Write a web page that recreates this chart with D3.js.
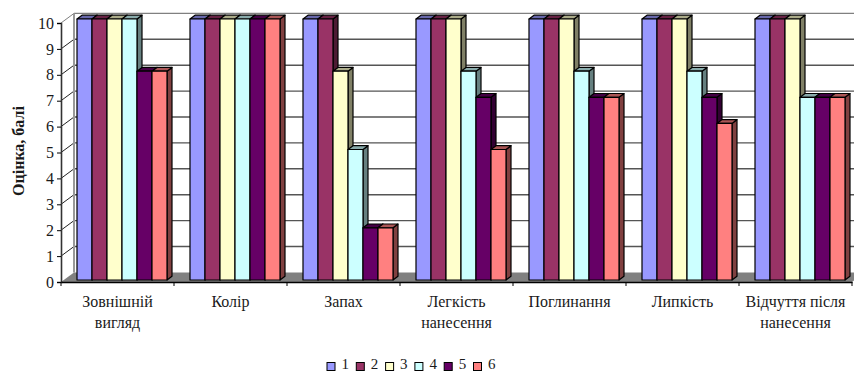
<!DOCTYPE html>
<html>
<head>
<meta charset="utf-8">
<script src="https://cdn.jsdelivr.net/npm/d3@7/dist/d3.min.js"></script>
<style>
  html, body { margin: 0; padding: 0; background: #fff; }
  svg { display: block; }
  text { font-family: "Liberation Serif", "Times New Roman", serif; fill: #1a1a1a; }
</style>
</head>
<body>
<svg id="chart" width="854" height="372"></svg>
<script>
const categories = ["Зовнішній вигляд", "Колір", "Запах", "Легкість нанесення", "Поглинання", "Липкість", "Відчуття після нанесення"];
const seriesNames = ["1", "2", "3", "4", "5", "6"];
const series1 = [10, 10, 10, 10, 10, 10, 10];
const series2 = [10, 10, 10, 10, 10, 10, 10];
const series3 = [10, 10, 8, 10, 10, 10, 10];
const series4 = [10, 10, 5, 8, 8, 8, 7];
const series5 = [8, 10, 2, 7, 7, 7, 7];
const series6 = [8, 10, 2, 5, 7, 6, 7];
const seriesColors = ["#9999ff", "#993366", "#ffffcc", "#ccffff", "#660066", "#ff8080"];
const yTicks = [0, 1, 2, 3, 4, 5, 6, 7, 8, 9, 10];
const yTitle = "Оцінка, балі";

const allSeries = [series1, series2, series3, series4, series5, series6];
const svg = d3.select("#chart");

// Front plane of the 3D box and the oblique offset to its back wall.
const x = d3.scaleBand().domain(categories).range([61, 852]);
const y = d3.scaleLinear().domain([0, 10]).range([282, 23]);
const wallDx = 13, wallDy = -9.6;

// Bars stand slightly inside the box and have their own small depth.
const barInsetX = 2.5, barInsetY = -2;
const barDx = 5, barDy = -3.8;
const barBand = d3.scaleBand().domain(d3.range(seriesNames.length)).range([0, 90]);
const groupLead = 13.5;
const barHeightScale = d3.scaleLinear().domain([0, 10]).range([0, 261]);

const px = v => v.toFixed(2);
const poly = pts => pts.map(p => p.map(px).join(",")).join(" ");
const shade = (c, k) => {
  const rgb = d3.rgb(c);
  return d3.rgb(rgb.r * k, rgb.g * k, rgb.b * k).formatHex();
};

const [x0, x1] = x.range();
const yBottom = y(0), yTop = y(10);

// Back-wall grid and the slanted ticks across the left wall.
const box = svg.append("g");
box.selectAll("line.grid").data(yTicks.filter(t => t > 0)).join("line")
  .attr("class", "grid")
  .attr("x1", x0 + wallDx).attr("x2", 854)
  .attr("y1", d => y(d) + wallDy).attr("y2", d => y(d) + wallDy)
  .attr("stroke", d => d === 10 ? "#808080" : "#555").attr("stroke-width", 1.4);

box.selectAll("line.wallTick").data(yTicks.filter(t => t > 0)).join("line")
  .attr("class", "wallTick")
  .attr("x1", x0).attr("y1", d => y(d))
  .attr("x2", x0 + wallDx).attr("y2", d => y(d) + wallDy)
  .attr("stroke", d => d === 10 ? "#808080" : "#222").attr("stroke-width", 1);

box.append("line")
  .attr("x1", x0 + wallDx).attr("x2", x0 + wallDx)
  .attr("y1", yBottom + wallDy).attr("y2", yTop + wallDy)
  .attr("stroke", "#999").attr("stroke-width", 2);

// Grey floor of the box.
box.append("polygon")
  .attr("points", poly([[x0, yBottom], [x1, yBottom], [x1 + wallDx, yBottom + wallDy], [x0 + wallDx, yBottom + wallDy]]))
  .attr("fill", "#808080");

// Each bar is painted side, top, then front, left to right within its group.
const bars = svg.append("g");
categories.forEach((cat, ci) => {
  allSeries.forEach((values, si) => {
    const v = values[ci];
    const bx0 = x(cat) + groupLead + barInsetX + barBand(si);
    const bx1 = bx0 + barBand.bandwidth();
    const by0 = yBottom + barInsetY;
    const by1 = by0 - barHeightScale(v);
    const c = seriesColors[si];
    const g = bars.append("g").attr("stroke", "#000").attr("stroke-width", 1.2).attr("stroke-linejoin", "round");
    g.append("polygon")
      .attr("points", poly([[bx1, by0], [bx1 + barDx, by0 + barDy], [bx1 + barDx, by1 + barDy], [bx1, by1]]))
      .attr("fill", shade(c, 0.5));
    g.append("polygon")
      .attr("points", poly([[bx0, by1], [bx1, by1], [bx1 + barDx, by1 + barDy], [bx0 + barDx, by1 + barDy]]))
      .attr("fill", shade(c, 0.67));
    g.append("rect")
      .attr("x", bx0).attr("y", by1)
      .attr("width", barBand.bandwidth()).attr("height", by0 - by1)
      .attr("fill", c);
  });
});

// Front axes.
const yAxis = d3.axisLeft(y).tickValues(yTicks).tickSize(4).tickPadding(3).tickFormat(d3.format("d"));
const yG = svg.append("g").attr("transform", `translate(${x0},0)`).call(yAxis);
yG.select(".domain").attr("stroke", "#333").attr("stroke-width", 1.6);
yG.selectAll("text").attr("font-family", null).attr("font-size", 16);

const xEdges = d3.scaleLinear().domain([0, categories.length]).range(x.range());
const xAxis = d3.axisBottom(x).tickSize(0).tickPadding(13.6);
const xG = svg.append("g").attr("transform", `translate(0,${yBottom})`).call(xAxis);
xG.select(".domain").attr("stroke", "#000").attr("stroke-width", 1.4);
xG.selectAll(".edge").data(d3.range(categories.length + 1)).join("line")
  .attr("class", "edge")
  .attr("x1", d => xEdges(d)).attr("x2", d => xEdges(d))
  .attr("y1", 0).attr("y2", 4)
  .attr("stroke", "#000");

// Category labels wrap inside their band with generous line spacing.
xG.selectAll(".tick text").attr("font-size", 16).each(function (d) {
  const label = d3.select(this);
  const yPos = +label.attr("y");
  const words = d.split(" ");
  const maxWidth = x.bandwidth() - 4;
  label.text(null);
  let line = [];
  let row = 0;
  let tspan = label.append("tspan").attr("x", 0).attr("y", yPos).attr("dy", "0.71em");
  words.forEach(w => {
    line.push(w);
    tspan.text(line.join(" "));
    if (tspan.node().getComputedTextLength() > maxWidth && line.length > 1) {
      line.pop();
      tspan.text(line.join(" "));
      line = [w];
      row += 1;
      tspan = label.append("tspan").attr("x", 0).attr("y", yPos + row * 21.5).attr("dy", "0.71em").text(w);
    }
  });
});

// Vertical axis title.
svg.append("text")
  .attr("transform", "translate(23.5,151) rotate(-90)")
  .attr("text-anchor", "middle")
  .attr("font-size", 16)
  .attr("font-weight", "bold")
  .text(yTitle);

// Legend row, kept just inside the bottom edge.
const legendX = d3.scalePoint().domain(seriesNames).range([327, 473.5]);
const legend = svg.append("g");
const item = legend.selectAll("g").data(seriesNames).join("g")
  .attr("transform", d => `translate(${legendX(d)},362.5)`);
item.append("rect")
  .attr("width", 8).attr("height", 8)
  .attr("fill", (d, i) => seriesColors[i]).attr("stroke", "#000");
item.append("text")
  .attr("x", 14.5).attr("y", 6)
  .attr("font-size", 15)
  .text(d => d);
</script>
</body>
</html>
